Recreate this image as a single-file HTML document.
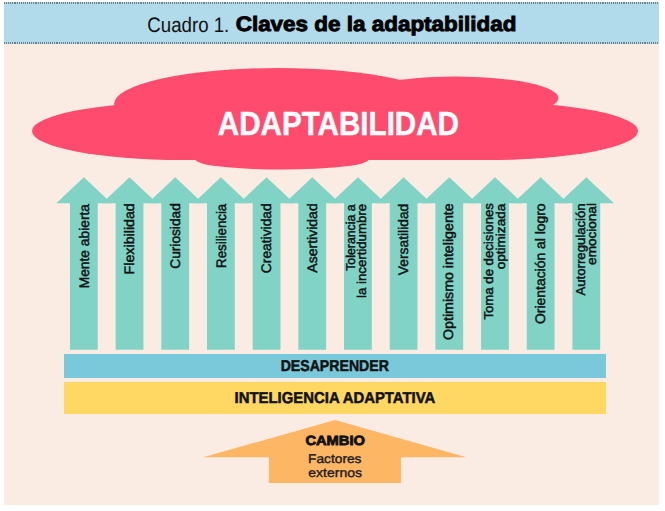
<!DOCTYPE html>
<html>
<head>
<meta charset="utf-8">
<style>
html,body{margin:0;padding:0;}
body{width:665px;height:511px;background:#ffffff;position:relative;overflow:hidden;font-family:"Liberation Sans",sans-serif;}
#bg{position:absolute;left:4px;top:44px;width:655px;height:461px;background:#FBECE3;}
#hdr{position:absolute;left:4px;top:2px;width:655px;height:42px;background:#B1DAEB;}
.dots{position:absolute;left:4.4px;width:654.6px;height:2px;opacity:0.6;background:repeating-linear-gradient(90deg,#3e454c 0,#3e454c 1.1px,transparent 1.1px,transparent 2.1px);}
.t{position:absolute;white-space:nowrap;color:#111;transform-origin:0 0;}
body{text-rendering:geometricPrecision;}
svg{position:absolute;left:0;top:0;}
.lab{position:absolute;white-space:nowrap;color:#111;font-weight:normal;-webkit-text-stroke:0.45px #111;transform-origin:0 0;}
</style>
</head>
<body>
<div id="bg"></div>
<div id="hdr"></div>
<div class="dots" style="top:2px"></div>
<div class="dots" style="top:42px"></div>

<svg width="665" height="511" viewBox="0 0 665 511">
  <g fill="#FF4B6D">
    <ellipse cx="278" cy="104" rx="164" ry="36"/>
    <ellipse cx="455" cy="98" rx="103.5" ry="21.5"/>
    <ellipse cx="182" cy="131" rx="150" ry="29"/>
    <ellipse cx="488" cy="131" rx="150" ry="29"/>
    <rect x="182" y="102" width="306" height="58"/>
    <ellipse cx="282" cy="159.6" rx="86.5" ry="9.9"/>
  </g>
  <g fill="#81D3C6"><polygon points="83.85,177.20 111.45,203.20 97.75,203.20 97.75,349.80 69.95,349.80 69.95,203.20 56.25,203.20"/><polygon points="129.53,177.20 157.13,203.20 143.43,203.20 143.43,349.80 115.63,349.80 115.63,203.20 101.93,203.20"/><polygon points="175.21,177.20 202.81,203.20 189.11,203.20 189.11,349.80 161.31,349.80 161.31,203.20 147.61,203.20"/><polygon points="220.89,177.20 248.49,203.20 234.79,203.20 234.79,349.80 206.99,349.80 206.99,203.20 193.29,203.20"/><polygon points="266.57,177.20 294.17,203.20 280.47,203.20 280.47,349.80 252.67,349.80 252.67,203.20 238.97,203.20"/><polygon points="312.25,177.20 339.85,203.20 326.15,203.20 326.15,349.80 298.35,349.80 298.35,203.20 284.65,203.20"/><polygon points="357.93,177.20 385.53,203.20 371.83,203.20 371.83,349.80 344.03,349.80 344.03,203.20 330.33,203.20"/><polygon points="403.61,177.20 431.21,203.20 417.51,203.20 417.51,349.80 389.71,349.80 389.71,203.20 376.01,203.20"/><polygon points="449.29,177.20 476.89,203.20 463.19,203.20 463.19,349.80 435.39,349.80 435.39,203.20 421.69,203.20"/><polygon points="494.97,177.20 522.57,203.20 508.87,203.20 508.87,349.80 481.07,349.80 481.07,203.20 467.37,203.20"/><polygon points="540.65,177.20 568.25,203.20 554.55,203.20 554.55,349.80 526.75,349.80 526.75,203.20 513.05,203.20"/><polygon points="586.33,177.20 613.93,203.20 600.23,203.20 600.23,349.80 572.43,349.80 572.43,203.20 558.73,203.20"/></g>
  <rect x="64" y="354" width="542" height="24" fill="#79C9DA"/>
  <rect x="64" y="382" width="542" height="32" fill="#FFD762"/>
  <polygon points="335,420 466.5,457.3 401,457.3 401,483 269,483 269,457.3 203.2,457.3" fill="#FDB664"/>
</svg>

<div class="t" id="cuadro" style="left:147px;top:12px;font-size:20.97px;line-height:26.21px;color:#111;transform:translate(0.28px,0.74px) scaleX(0.8903)">Cuadro 1.</div>
<div class="t" id="claves" style="left:235px;top:11px;font-size:20.80px;line-height:26.00px;font-weight:bold;color:#000;-webkit-text-stroke:0.90px #000;transform:translate(0.69px,0.63px) scaleX(1.0794)">Claves de la adaptabilidad</div>
<div class="t" id="adapt" style="left:217px;top:103px;font-size:33.49px;line-height:41.86px;font-weight:bold;color:#fff;-webkit-text-stroke:0.50px #fff;transform:translate(0.83px,0.54px) scaleX(0.8840)">ADAPTABILIDAD</div>
<div class="t" id="desap" style="left:280px;top:356px;font-size:15.67px;line-height:19.58px;font-weight:bold;color:#111;-webkit-text-stroke:0.50px #111;transform:translate(0.65px,0.73px) scaleX(0.9014)">DESAPRENDER</div>
<div class="t" id="intel" style="left:234px;top:388px;font-size:15.65px;line-height:19.56px;font-weight:bold;color:#111;-webkit-text-stroke:0.50px #111;transform:translate(0.60px,0.60px) scaleX(0.9517)">INTELIGENCIA ADAPTATIVA</div>
<div class="t" id="cambio" style="left:305px;top:432px;font-size:13.36px;line-height:16.70px;font-weight:bold;color:#111;-webkit-text-stroke:0.80px #111;transform:translate(0.40px,0.56px) scaleX(1.0988)">CAMBIO</div>
<div class="t" id="fact" style="left:308px;top:451px;font-size:12.70px;line-height:15.88px;color:#1a1a1a;-webkit-text-stroke:0.35px #1a1a1a;transform:translate(0.10px,0.68px) scaleX(1.0815)">Factores</div>
<div class="t" id="ext" style="left:308px;top:465px;font-size:12.70px;line-height:15.88px;color:#1a1a1a;-webkit-text-stroke:0.35px #1a1a1a;transform:translate(0.31px,0.54px) scaleX(1.1015)">externos</div>

<div class="lab" style="left:76px;top:288px;font-size:13.80px;line-height:16.56px;transform:translate(0.72px,0.32px) rotate(-90deg) scaleX(0.9996)">Mente abierta</div>
<div class="lab" style="left:121px;top:274px;font-size:13.80px;line-height:16.56px;transform:translate(0.62px,0.40px) rotate(-90deg) scaleX(1.0313)">Flexibilidad</div>
<div class="lab" style="left:167px;top:268px;font-size:13.80px;line-height:16.56px;transform:translate(0.52px,0.76px) rotate(-90deg) scaleX(0.9939)">Curiosidad</div>
<div class="lab" style="left:213px;top:267px;font-size:13.80px;line-height:16.56px;transform:translate(0.52px,0.90px) rotate(-90deg) scaleX(0.9615)">Resiliencia</div>
<div class="lab" style="left:258px;top:273px;font-size:13.80px;line-height:16.56px;transform:translate(0.57px,0.16px) rotate(-90deg) scaleX(1.0005)">Creatividad</div>
<div class="lab" style="left:304px;top:272px;font-size:13.80px;line-height:16.56px;transform:translate(0.72px,0.68px) rotate(-90deg) scaleX(1.0168)">Asertividad</div>
<div class="lab" style="left:342px;top:270px;font-size:12.80px;line-height:15.36px;transform:translate(0.50px,0.83px) rotate(-90deg) scaleX(0.9636)">Tolerancia a</div>
<div class="lab" style="left:353px;top:297px;font-size:12.80px;line-height:15.36px;transform:translate(0.65px,0.93px) rotate(-90deg) scaleX(1.0325)">la incertidumbre</div>
<div class="lab" style="left:395px;top:275px;font-size:13.80px;line-height:16.56px;transform:translate(0.62px,0.19px) rotate(-90deg) scaleX(1.0016)">Versatilidad</div>
<div class="lab" style="left:440px;top:340px;font-size:13.80px;line-height:16.56px;transform:translate(0.67px,0.03px) rotate(-90deg) scaleX(1.0303)">Optimismo inteligente</div>
<div class="lab" style="left:480px;top:319px;font-size:12.80px;line-height:15.36px;transform:translate(0.65px,0.57px) rotate(-90deg) scaleX(1.0296)">Toma de decisiones</div>
<div class="lab" style="left:492px;top:269px;font-size:12.80px;line-height:15.36px;transform:translate(0.50px,0.29px) rotate(-90deg) scaleX(1.0590)">optimizada</div>
<div class="lab" style="left:532px;top:323px;font-size:13.80px;line-height:16.56px;transform:translate(0.61px,0.95px) rotate(-90deg) scaleX(1.0074)">Orientación al logro</div>
<div class="lab" style="left:572px;top:295px;font-size:12.80px;line-height:15.36px;transform:translate(0.54px,0.53px) rotate(-90deg) scaleX(1.0287)">Autorregulación</div>
<div class="lab" style="left:583px;top:264px;font-size:12.80px;line-height:15.36px;transform:translate(0.55px,0.88px) rotate(-90deg) scaleX(1.0593)">emocional</div>

</body>
</html>
